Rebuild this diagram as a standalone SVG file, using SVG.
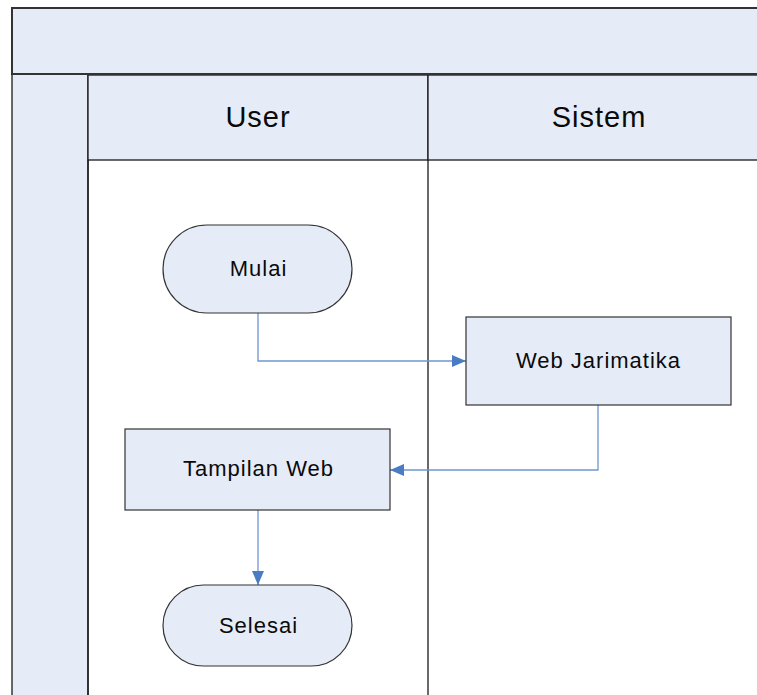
<svg xmlns="http://www.w3.org/2000/svg" width="757" height="695" viewBox="0 0 757 695">
  <style>
    .band { fill: #E6ECF7; stroke: #333333; stroke-width: 2; }
    .cell { fill: #E6ECF7; stroke: #1a1a1a; stroke-width: 1.3; }
    .lane { fill: none; stroke: #1a1a1a; stroke-width: 1.3; }
    .node { fill: #E6ECF7; stroke: #333333; stroke-width: 1.2; }
    .hdr { font-family: "Liberation Sans", Arial, sans-serif; font-size: 29px; fill: #0a0a0a; text-anchor: middle; letter-spacing: 1px; }
    .lbl { font-family: "Liberation Sans", Arial, sans-serif; font-size: 22px; fill: #0a0a0a; text-anchor: middle; letter-spacing: 1px; }
    .conn { fill: none; stroke: #6F96D1; stroke-width: 1.3; }
  </style>
  <defs>
    <marker id="arrow" markerWidth="14" markerHeight="12" refX="14" refY="6" orient="auto" markerUnits="userSpaceOnUse">
      <path d="M0,0 L14,6 L0,12 Z" fill="#4A7CC4"/>
    </marker>
  </defs>

  <rect width="757" height="695" fill="#ffffff"/>

  <!-- pool frame -->
  <g id="pool">
    <rect class="band" x="12" y="8" width="760" height="66"/>
    <rect class="cell" x="12" y="74" width="76" height="640"/>
    <rect class="cell" x="88" y="75" width="340" height="85"/>
    <rect class="cell" x="428" y="75" width="340" height="85"/>
    <line class="lane" x1="12" y1="74" x2="757" y2="74" style="stroke:#333333;stroke-width:2"/>
    <line class="lane" x1="428" y1="160" x2="428" y2="700"/>
    <line class="lane" x1="88" y1="160" x2="88" y2="700"/>
  </g>

  <g id="lane-user">
    <text class="hdr" x="258" y="127">User</text>
  </g>
  <g id="lane-sistem">
    <text class="hdr" x="599" y="127">Sistem</text>
  </g>

  <!-- connectors -->
  <g id="connectors">
    <polyline class="conn" points="258,313 258,361 466,361" marker-end="url(#arrow)"/>
    <polyline class="conn" points="598,405 598,470 390,470" marker-end="url(#arrow)"/>
    <polyline class="conn" points="258,510 258,585" marker-end="url(#arrow)"/>
  </g>

  <g id="mulai">
    <rect class="node" x="163" y="225" width="189" height="88" rx="44" ry="44"/>
    <text class="lbl" x="258.5" y="276">Mulai</text>
  </g>

  <g id="web-jarimatika">
    <rect class="node" x="466" y="317" width="265" height="88"/>
    <text class="lbl" x="598.5" y="368">Web Jarimatika</text>
  </g>

  <g id="tampilan-web">
    <rect class="node" x="125" y="429" width="265" height="81"/>
    <text class="lbl" x="258.5" y="476">Tampilan Web</text>
  </g>

  <g id="selesai">
    <rect class="node" x="163" y="585" width="189" height="81" rx="40.5" ry="40.5"/>
    <text class="lbl" x="258.5" y="633">Selesai</text>
  </g>
</svg>
